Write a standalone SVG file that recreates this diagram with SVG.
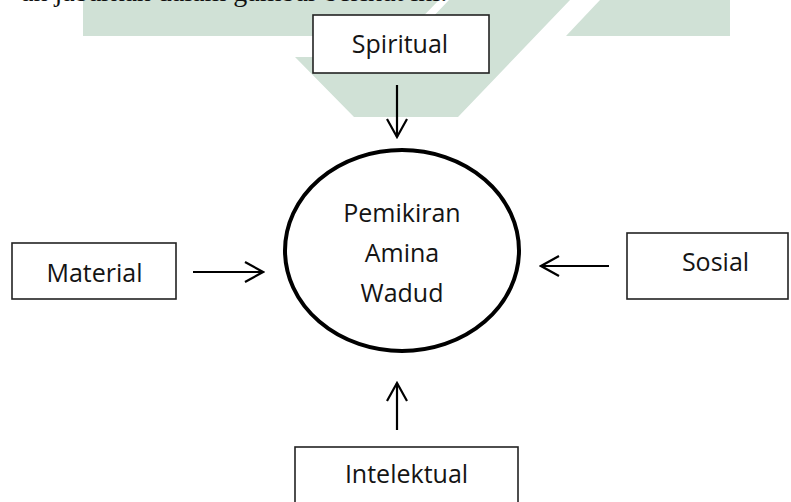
<svg xmlns="http://www.w3.org/2000/svg" width="791" height="502" viewBox="0 0 791 502">
<style>
.wm{fill:#d0e1d6;stroke:none}
.box{fill:#ffffff;stroke:#222222;stroke-width:1.6}
.lbl{font-family:"Open Sans","Noto Sans","DejaVu Sans",sans-serif;font-size:25px;fill:#141414;text-anchor:middle}
.body{font-family:"Liberation Serif","Times New Roman",serif;font-size:28px;fill:#111111}
.arr{fill:none;stroke:#000000;stroke-width:2.2}
</style>
<defs>
<marker id="open" viewBox="-21 -12 23 24" refX="0" refY="0" markerWidth="23" markerHeight="24" markerUnits="userSpaceOnUse" orient="auto">
<path d="M-18,-10 L0,0 L-18,10" fill="none" stroke="#000000" stroke-width="2.2"/>
</marker>
</defs>
<rect width="791" height="502" fill="#ffffff"/>
<g id="watermark">
<polygon class="wm" points="83,0 439,0 404,36 83,36"/>
<polygon class="wm" points="449,0 570,0 458,117 354,117 295,57 394.5,57"/>
<polygon class="wm" points="600,0 730,0 730,36 566,36"/>
</g>
<text class="body" x="21" y="0.5">an jabarkan dalam gambar berikut ini:</text>
<g id="connectors">
<line class="arr" x1="397" y1="85" x2="397" y2="137" marker-end="url(#open)"/>
<line class="arr" x1="193" y1="272" x2="263" y2="272" marker-end="url(#open)"/>
<line class="arr" x1="609" y1="266" x2="541" y2="266" marker-end="url(#open)"/>
<line class="arr" x1="397" y1="430" x2="397" y2="383" marker-end="url(#open)"/>
</g>
<g id="node-spiritual">
<rect class="box" x="313" y="15" width="176" height="58"/>
<text class="lbl" x="400" y="53">Spiritual</text>
</g>
<g id="node-material">
<rect class="box" x="12" y="243" width="164" height="56"/>
<text class="lbl" x="94.5" y="282">Material</text>
</g>
<g id="node-sosial">
<rect class="box" x="627" y="233" width="161" height="66"/>
<text class="lbl" x="715.5" y="271">Sosial</text>
</g>
<g id="node-intelektual">
<rect class="box" x="295" y="447" width="223" height="70"/>
<text class="lbl" x="406.5" y="483">Intelektual</text>
</g>
<g id="node-center">
<ellipse cx="402" cy="250.5" rx="117" ry="100.5" fill="#ffffff" stroke="#000000" stroke-width="4"/>
<text class="lbl" x="402" y="222">Pemikiran</text>
<text class="lbl" x="402" y="262">Amina</text>
<text class="lbl" x="402" y="302">Wadud</text>
</g>
</svg>
